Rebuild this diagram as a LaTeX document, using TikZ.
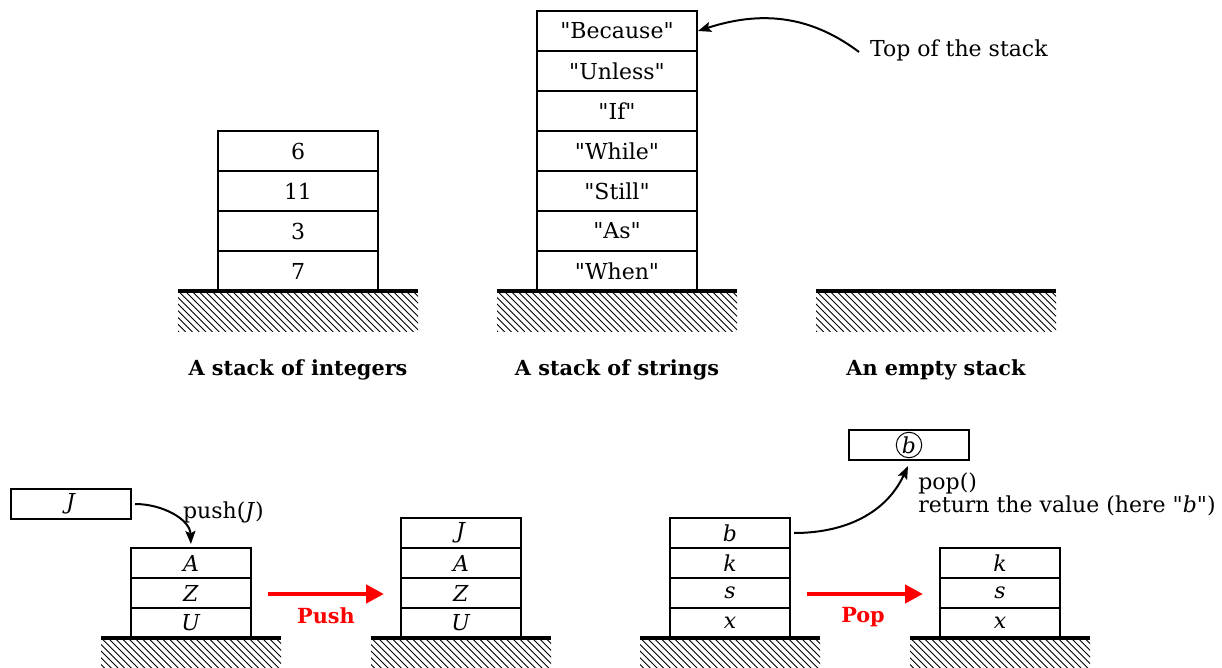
\documentclass[tikz,border=0pt]{standalone}
\usepackage{fontspec}
\setmainfont{DejaVu Serif}
\usetikzlibrary{arrows.meta}

\newcommand\basefont{\fontsize{11}{14}\selectfont}
\newcommand\boldfont{\fontsize{10.4}{13}\selectfont\bfseries}

\tikzset{
  every node/.append style={font=\basefont},
  cell/.style={draw, line width=1pt, minimum width=80pt, minimum height=20pt, inner sep=0pt},
  smallcell/.style={draw, line width=1pt, minimum width=60pt, minimum height=15pt, inner sep=0pt},
  groundline/.style={line width=2pt},
  hatchline/.style={line width=0.45pt},
  caption/.style={font=\boldfont},
  pointer/.style={line width=1pt, -{Stealth[length=6.5pt,width=5pt,inset=1.2pt]}},
  action/.style={red, line width=2.2pt, -{Triangle[length=9pt,width=9pt]}},
  actionlabel/.style={text=red, font=\boldfont},
}

% ground: centre x, top y, half width, hatch depth
\newcommand\groundbase[4]{%
  \begin{scope}
    \clip (#1-#3,#2) rectangle (#1+#3,#2+#4);
    \foreach \k in {0,...,50}
      \draw[hatchline] (#1-#3-60+6.7*\k,#2) -- ++(#4,#4);
  \end{scope}
  \draw[groundline] (#1-#3,#2) -- (#1+#3,#2);
}

\begin{document}
\begin{tikzpicture}[x=0.5pt,y=-0.5pt]
\useasboundingbox (0,0) rectangle (1222,668);

% ---------- stack of integers ----------
\node[cell] (i1) at (298,271) {7};
\node[cell] (i2) at (298,231) {3};
\node[cell] (i3) at (298,191) {11};
\node[cell] (i4) at (298,151) {6};
\groundbase{298}{291}{120}{41}
\node[caption] (capint) at (298,370) {A stack of integers};

% ---------- stack of strings ----------
\node[cell] (s1) at (617,271) {\textquotedbl When\textquotedbl};
\node[cell] (s2) at (617,231) {\textquotedbl As\textquotedbl};
\node[cell] (s3) at (617,191) {\textquotedbl Still\textquotedbl};
\node[cell] (s4) at (617,151) {\textquotedbl While\textquotedbl};
\node[cell] (s5) at (617,111) {\textquotedbl If\textquotedbl};
\node[cell] (s6) at (617,71)  {\textquotedbl Unless\textquotedbl};
\node[cell] (s7) at (617,31)  {\textquotedbl Because\textquotedbl};
\groundbase{617}{291}{120}{41}
\node[caption] (capstr) at (617,370) {A stack of strings};

\node[anchor=west] (toplbl) at (863,50) {Top of the stack};
\draw[pointer] ([xshift=-2pt,yshift=-1pt]toplbl.west) to[out=143,in=18] (s7.east);

% ---------- empty stack ----------
\groundbase{936}{291}{120}{41}
\node[caption] (capempty) at (936,370) {An empty stack};

% ---------- push ----------
\node[smallcell] (jin) at (71,504) {\textit{J}};
\node[smallcell] (a1) at (191,623) {\textit{U}};
\node[smallcell] (a2) at (191,593) {\textit{Z}};
\node[smallcell] (a3) at (191,563) {\textit{A}};
\groundbase{191}{638}{90}{45}
\draw[pointer, shorten >=1.5pt] ([xshift=1.5pt]jin.east) to[out=0,in=92] (a3.north);
\node[anchor=west] (pushlbl) at (176,512) {push(\textit{J})};

\node[smallcell] (b1) at (461,623) {\textit{U}};
\node[smallcell] (b2) at (461,593) {\textit{Z}};
\node[smallcell] (b3) at (461,563) {\textit{A}};
\node[smallcell] (b4) at (461,533) {\textit{J}};
\groundbase{461}{638}{90}{45}

\draw[action] ([xshift=8pt,yshift=-0.5pt]a2.east) -- ([xshift=-8pt,yshift=-0.5pt]b2.west);
\node[actionlabel] (pushtxt) at (326,616) {Push};

% ---------- pop ----------
\node[smallcell] (c1) at (730,623) {\textit{x}};
\node[smallcell] (c2) at (730,593) {\textit{s}};
\node[smallcell] (c3) at (730,563) {\textit{k}};
\node[smallcell] (c4) at (730,533) {\textit{b}};
\groundbase{730}{638}{90}{45}

\node[smallcell] (outbox) at (909,445) {};
\node[draw, circle, line width=0.5pt, inner sep=0.6pt] (outval) at (outbox) {\textit{b}};
\draw[pointer] ([xshift=1.5pt]c4.east) to[out=0,in=-115] ([xshift=-0.5pt,yshift=-2.5pt]outbox.south);
\node[anchor=north west, align=left, inner sep=0pt, font=\fontsize{11}{11.5}\selectfont] (poplbl) at (918,472)
  {pop()\\return the value (here \textquotedbl\textit{b}\textquotedbl)};

\node[smallcell] (d1) at (1000,623) {\textit{x}};
\node[smallcell] (d2) at (1000,593) {\textit{s}};
\node[smallcell] (d3) at (1000,563) {\textit{k}};
\groundbase{1000}{638}{90}{45}

\draw[action] ([xshift=8pt,yshift=-0.5pt]c2.east) -- ([xshift=-8pt,yshift=-0.5pt]d2.west);
\node[actionlabel] (poptxt) at (863,617) {Pop};
\end{tikzpicture}
\end{document}
